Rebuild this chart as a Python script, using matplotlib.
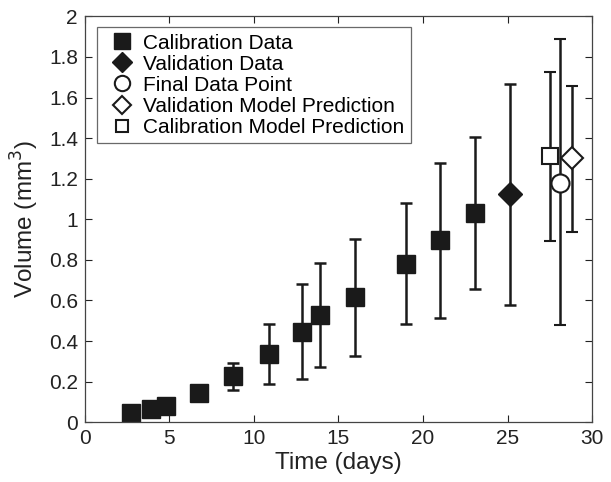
import matplotlib
matplotlib.use("Agg")
from matplotlib import pyplot as plt

plt.rcParams['font.family'] = ['Liberation Sans', 'DejaVu Sans']

# calibration data (days, mm^3, error bar low/high)
cal_t = [2.75, 3.9, 4.8, 6.75, 8.75, 10.9, 12.85, 13.9, 15.95, 19.0, 21.0, 23.05]
cal_v = [0.047, 0.064, 0.08, 0.146, 0.228, 0.335, 0.445, 0.53, 0.617, 0.782, 0.897, 1.03]
cal_lo = [0.047, 0.064, 0.08, 0.146, 0.159, 0.189, 0.215, 0.272, 0.327, 0.486, 0.516, 0.655]
cal_hi = [0.047, 0.064, 0.08, 0.146, 0.294, 0.484, 0.681, 0.783, 0.905, 1.078, 1.277, 1.405]

# validation data
val_t = [25.15]
val_v = [1.123]
val_lo = [0.58]
val_hi = [1.665]

# final data point
fin_t = [28.1]
fin_v = [1.18]
fin_lo = [0.48]
fin_hi = [1.89]

# validation model prediction
vmp_t = [28.8]
vmp_v = [1.30]
vmp_lo = [0.935]
vmp_hi = [1.655]

# calibration model prediction
cmp_t = [27.5]
cmp_v = [1.31]
cmp_lo = [0.895]
cmp_hi = [1.725]


def yerr(v, lo, hi):
    return [[a - b for a, b in zip(v, lo)], [b - a for a, b in zip(v, hi)]]


fig = plt.figure(figsize=(6.11, 4.82), dpi=100)
ax = fig.add_axes([0.139, 0.124, 0.830, 0.842])

eb = dict(color='#1a1a1a', elinewidth=1.8, capsize=4, capthick=1.8, linestyle='none')

ax.errorbar(cal_t, cal_v, yerr=yerr(cal_v, cal_lo, cal_hi), marker='s', ms=13,
            mfc='#1a1a1a', mec='#1a1a1a', label='Calibration Data', **eb)
ax.errorbar(val_t, val_v, yerr=yerr(val_v, val_lo, val_hi), marker='D', ms=12,
            mfc='#1a1a1a', mec='#1a1a1a', label='Validation Data', **eb)
ax.errorbar(fin_t, fin_v, yerr=yerr(fin_v, fin_lo, fin_hi), marker='o', ms=13,
            mfc='white', mec='#1a1a1a', mew=1.5, label='Final Data Point', **eb)
ax.errorbar(vmp_t, vmp_v, yerr=yerr(vmp_v, vmp_lo, vmp_hi), marker='D', ms=11,
            mfc='white', mec='#1a1a1a', mew=1.5, label='Validation Model Prediction', **eb)
ax.errorbar(cmp_t, cmp_v, yerr=yerr(cmp_v, cmp_lo, cmp_hi), marker='s', ms=11,
            mfc='white', mec='#1a1a1a', mew=1.5, label='Calibration Model Prediction', **eb)

ax.set_xlim(0, 30)
ax.set_ylim(0, 2)
ax.set_xticks([0, 5, 10, 15, 20, 25, 30])
ax.set_yticks([0, 0.2, 0.4, 0.6, 0.8, 1, 1.2, 1.4, 1.6, 1.8, 2])
ax.set_yticklabels(['0', '0.2', '0.4', '0.6', '0.8', '1', '1.2', '1.4', '1.6', '1.8', '2'])
ax.tick_params(direction='in', top=True, right=True, length=5, width=0.8,
               labelsize=15, colors='#222222', pad=5)
for s in ax.spines.values():
    s.set_color('#444444')
    s.set_linewidth(0.9)

ax.set_xlabel('Time (days)', fontsize=17.5, color='#222222', labelpad=3)
ax.set_ylabel('Volume (mm$^3$)', fontsize=17.5, color='#222222', labelpad=6)

h, l = ax.get_legend_handles_labels()
h = [x[0] for x in h]
leg = ax.legend(h, l, loc='upper left', fontsize=15, frameon=True, fancybox=False,
                edgecolor='#444444', handletextpad=0.08, labelspacing=0.1,
                borderpad=0.3, handlelength=1.85, markerscale=0.85,
                borderaxespad=0, bbox_to_anchor=(0.023, 0.973))
leg.get_frame().set_linewidth(0.9)

fig.savefig('out.png', dpi=100)
